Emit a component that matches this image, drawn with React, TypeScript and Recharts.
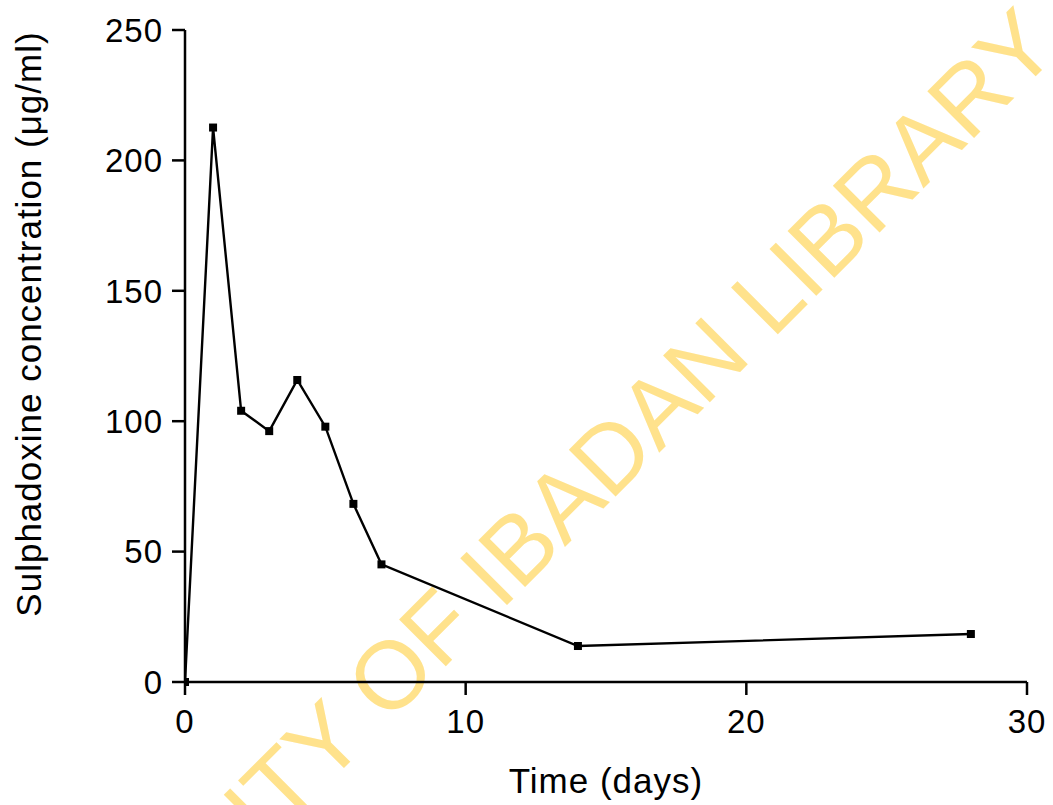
import React from 'react';
import { LineChart, Line, XAxis, YAxis, Label } from 'recharts';

const days = [0, 1, 2, 3, 4, 5, 6, 7, 14, 28];
const concentration = [0, 212.6, 104, 96.2, 115.8, 97.9, 68.3, 45.1, 13.8, 18.4];
const xTicks = [0, 10, 20, 30];
const yTicks = [0, 50, 100, 150, 200, 250];

const data = days.map((d, i) => ({ day: d, conc: concentration[i] }));

const FONT = '"Liberation Sans", Arial, sans-serif';

const SquareDot = (props: any) => {
  const { cx, cy } = props;
  if (cx == null || cy == null) return null;
  return <rect x={cx - 4} y={cy - 4} width={8} height={8} fill="#000" />;
};

const YTitle = (props: any) => {
  const { viewBox } = props;
  const x = viewBox.x + 41;
  const y = viewBox.y + viewBox.height / 2 - 32;
  return (
    <text x={x} y={y} transform={`rotate(-90, ${x}, ${y})`} textAnchor="middle"
      fontSize={35} letterSpacing={1} fontFamily={FONT} fill="#000">
      Sulphadoxine concentration (μg/ml)
    </text>
  );
};

const XTitle = (props: any) => {
  const { viewBox } = props;
  return (
    <text x={viewBox.x + viewBox.width / 2} y={793} textAnchor="middle"
      fontSize={35} letterSpacing={1} fontFamily={FONT} fill="#000">
      Time (days)
    </text>
  );
};

export default function App() {
  const tickStyle = { fill: '#000', fontSize: 33, letterSpacing: 1, fontFamily: FONT };
  return (
    <div style={{ position: 'absolute', left: 0, top: 0, width: 1053, height: 805, background: '#fff', overflow: 'hidden' }}>
      <svg width={1053} height={805} style={{ position: 'absolute', left: 0, top: 0 }}>
        <text x={512} y={600} transform="rotate(-45, 512, 600)" textAnchor="middle"
          fontSize={96} fontFamily={FONT} fill="#FFE28C">
          UNIVERSITY OF IBADAN LIBRARY
        </text>
      </svg>
      <div style={{ position: 'absolute', left: 0, top: 0 }}>
        <LineChart width={1053} height={805} data={data}
          margin={{ top: 30, right: 26, left: 0, bottom: 0 }}>
          <XAxis dataKey="day" type="number" domain={[0, 30]} ticks={xTicks}
            height={123} tickSize={13} tickMargin={15}
            axisLine={{ stroke: '#000', strokeWidth: 2.5 }}
            tickLine={{ stroke: '#000', strokeWidth: 2.5 }}
            tick={tickStyle} allowDataOverflow>
            <Label content={<XTitle />} />
          </XAxis>
          <YAxis type="number" domain={[0, 250]} ticks={yTicks}
            width={185} tickSize={13} tickMargin={9}
            axisLine={{ stroke: '#000', strokeWidth: 2.5 }}
            tickLine={{ stroke: '#000', strokeWidth: 2.5 }}
            tick={tickStyle}>
            <Label content={<YTitle />} />
          </YAxis>
          <Line type="linear" dataKey="conc" stroke="#000" strokeWidth={2.4}
            dot={<SquareDot />} activeDot={false} isAnimationActive={false} />
        </LineChart>
      </div>
    </div>
  );
}
